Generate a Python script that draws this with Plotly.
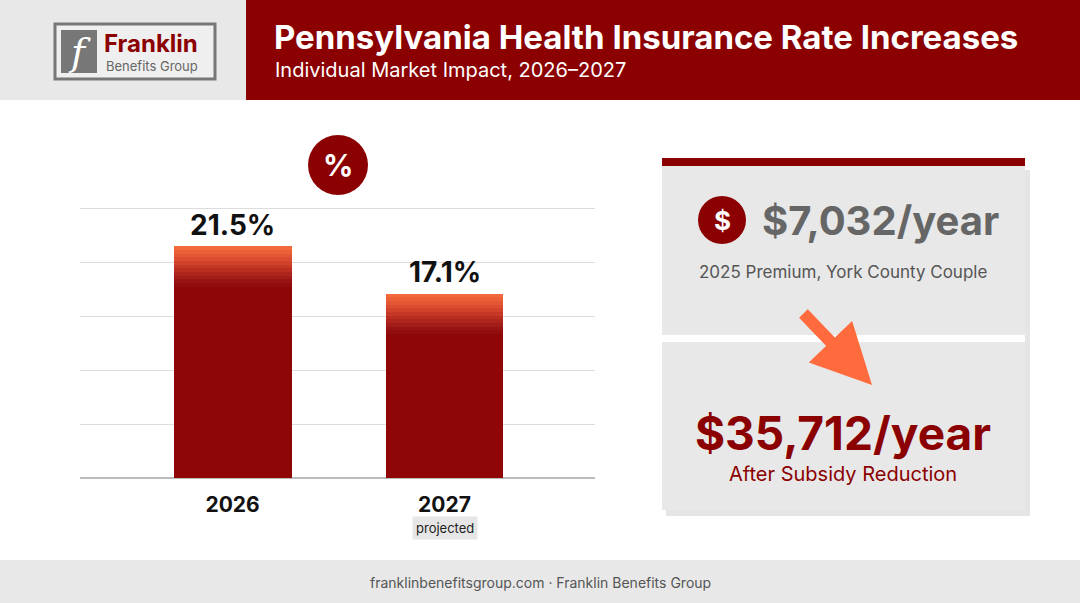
import plotly.graph_objects as go

# --- data ---
years = ["2026", "2027"]
rate_increase = [21.5, 17.1]
bar_labels = ["21.5%", "17.1%"]
premium_2025 = "$7,032/year"
premium_after = "$35,712/year"

W, H = 1080, 603
RED = "#8B0000"
FONT = "Inter"


def px(x):
    return x / W


def py(y):
    return 1 - y / H


fig = go.Figure()

# bars: dark base plus a fading orange cap made of stacked segments
xpos = [0, 1]
fig.add_trace(go.Bar(x=xpos, y=rate_increase, width=0.556, marker=dict(color="#8E0606", line_width=0),
                     hoverinfo="skip", showlegend=False))
cap_cols = ["#F26A3C", "#EC6038", "#E45634", "#DB4C30", "#D1422B", "#C63826", "#BA2E22",
            "#AE251D", "#A21C18", "#981313", "#910C0C"]
seg = 0.34
for i, c in enumerate(cap_cols):
    fig.add_trace(go.Bar(x=xpos, y=[seg] * 2, base=[v - seg * (i + 1) for v in rate_increase],
                         width=0.556, marker=dict(color=c, line_width=0), hoverinfo="skip",
                         showlegend=False))

fig.update_layout(
    width=W, height=H, margin=dict(l=0, r=0, t=0, b=0),
    paper_bgcolor="white", plot_bgcolor="white", barmode="overlay", bargap=0,
    font=dict(family=FONT),
    xaxis=dict(domain=[px(80), px(595)], range=[-0.72, 1.71], tickvals=xpos,
               ticktext=["<b>%s</b>" % y for y in years], tickfont=dict(size=21, color="#111"),
               showgrid=False, zeroline=False, showline=False, ticks="", ticklabelstandoff=12),
    yaxis=dict(domain=[py(478), py(202.6)], range=[0, 25.5], dtick=5, showticklabels=False,
               gridcolor="#DDDDDD", gridwidth=1, zeroline=True, zerolinecolor="#BBBBBB"),
)

ann = []
for x, v, t in zip(xpos, rate_increase, bar_labels):
    ann.append(dict(x=x, y=v, xref="x", yref="y", text="<b>%s</b>" % t, showarrow=False,
                    xanchor="center", yanchor="bottom", yshift=2, font=dict(size=28, color="#111")))
ann.append(dict(x=1, y=py(528), xref="x", yref="paper", text="projected", showarrow=False,
                xanchor="center", yanchor="middle",
                bgcolor="#E6E6E6", borderpad=3, font=dict(size=13, color="#222")))


def rect(x0, y0, x1, y1, color, **kw):
    d = dict(type="rect", xref="paper", yref="paper", x0=px(x0), x1=px(x1), y0=py(y1), y1=py(y0),
             fillcolor=color, line_width=0)
    d.update(kw)
    return d


def circle(cx, cy, r, color):
    return dict(type="circle", xref="paper", yref="paper", x0=px(cx - r), x1=px(cx + r),
                y0=py(cy + r), y1=py(cy - r), fillcolor=color, line_width=0)


shapes = [
    rect(0, 0, 246, 100, "#E8E8E8"),
    rect(246, 0, W, 100, RED),
    dict(type="rect", xref="paper", yref="paper", x0=px(55), x1=px(215), y0=py(79), y1=py(24),
         fillcolor="#EFEFEF", line=dict(color="#777777", width=3)),
    rect(61, 30, 97, 73, "#777"),
    rect(0, 560, W, H, "#E8E8E8"),
    circle(338, 165, 30, RED),
    # card shadow + card
    rect(666, 170, 1030, 516, "rgba(0,0,0,0.10)"),
    rect(662, 163, 1025, 510, "#E8E8E8"),
    rect(662, 158, 1025, 166, RED),
    rect(662, 335, 1025, 342, "white"),
    circle(722, 220, 24, RED),
]


def text(x, y, t, size, color, xanchor="center", **kw):
    d = dict(x=px(x), y=py(y), xref="paper", yref="paper", text=t, showarrow=False,
             xanchor=xanchor, yanchor="middle", font=dict(size=size, color=color))
    d["font"].update(kw.pop("font", {}))
    d.update(kw)
    return d


ann += [
    text(79, 52, "<i>f</i>", 38, "white", font=dict(family="DejaVu Serif")),
    text(102, 43, "<b>Franklin</b>", 24, RED, xanchor="left"),
    text(104, 66, "Benefits Group", 13, "#666", xanchor="left"),
    text(272, 37, "<b>Pennsylvania Health Insurance Rate Increases</b>", 33, "white", xanchor="left"),
    text(273, 70, "Individual Market Impact, 2026\u20132027", 20, "white", xanchor="left"),
    text(338, 165, "<b>%</b>", 30, "white"),
    text(722, 220, "<b>$</b>", 26, "white"),
    text(760, 220, "<b>%s</b>" % premium_2025, 40, "#666", xanchor="left"),
    text(843, 272, "2025 Premium, York County Couple", 17, "#555"),
    text(843, 433, "<b>%s</b>" % premium_after, 46, RED),
    text(843, 474, "After Subsidy Reduction", 20, RED),
    dict(x=px(872), y=py(385), ax=-70, ay=-73, xref="paper", yref="paper",
         text="", showarrow=True, arrowhead=2, arrowsize=1.0, arrowwidth=12,
         arrowcolor="#FF6B3D"),
    text(540, 582, "franklinbenefitsgroup.com \u00b7 Franklin Benefits Group", 14, "#555"),
]

fig.update_layout(shapes=shapes, annotations=ann)
fig.write_html("out.html", config={"displayModeBar": False},
               post_script="document.body.style.margin='0';")
